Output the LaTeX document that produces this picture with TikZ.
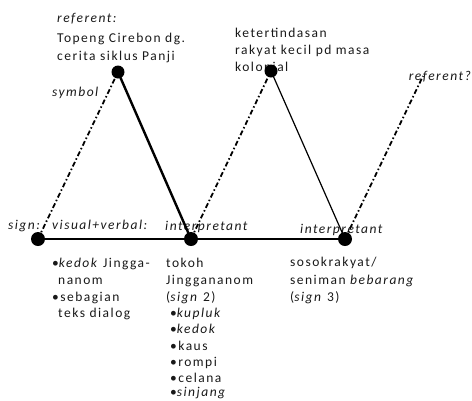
\documentclass[tikz,border=0pt]{standalone}
\usepackage{fontspec}
\setmainfont[LetterSpace=11]{Carlito}
\begin{document}
\begin{tikzpicture}[x=1pt,y=-1pt,
  txt/.style={anchor=base west,inner sep=0pt,font=\fontsize{13.5}{17}\selectfont,text=black!90},
  itx/.style={txt,font=\fontsize{13.5}{17}\selectfont\itshape},
  dot/.style={circle,fill=black,inner sep=0pt,minimum size=#1},
  dotdash/.style={line width=1.8pt,dash pattern=on 5pt off 2.5pt on 1.5pt off 2.5pt},
  thickline/.style={line width=2.4pt},
  thinline/.style={line width=1.2pt}]
\useasboundingbox (0,0) rectangle (472,400);
% text
\node[itx] (t1) at (57,22) {referent:};
\node[txt] (t2) at (57,42) {Topeng Cirebon dg.};
\node[txt] (t3) at (57,60) {cerita siklus Panji};
\node[itx] (t4) at (52,96) {symbol};
\node[txt] (t5) at (235,37) {ketertindasan};
\node[txt] (t6) at (235,54) {rakyat kecil pd masa};
\node[txt] (t7) at (235,71) {kolonial};
\node[itx,anchor=base east] (t8) at (471,80) {referent?};
\node[itx] (t9) at (8,229) {sign:};
\node[itx] (t10) at (52,229) {visual+verbal:};
\node[itx] (t11) at (165,230) {interpretant};
\node[itx] (t12) at (300,233) {interpretant};
\node[txt] (l1) at (52,267) {\textbullet\textit{kedok} Jingga-};
\node[txt] (l2) at (58,284) {nanom};
\node[txt] (l3) at (52,301) {\textbullet sebagian};
\node[txt] (l4) at (58,317) {teks dialog};
\node[txt] (m1) at (166,267) {tokoh};
\node[txt] (m2) at (166,284) {Jinggananom};
\node[txt] (m3) at (166,301) {(\textit{sign} 2)};
\node[txt] (m4) at (170,317) {\textbullet\textit{kupluk}};
\node[txt] (m5) at (170,333) {\textbullet\textit{kedok}};
\node[txt] (m6) at (170,350) {\textbullet kaus};
\node[txt] (m7) at (170,366) {\textbullet rompi};
\node[txt] (m8) at (170,382) {\textbullet celana};
\node[txt] (m9) at (170,396) {\textbullet\textit{sinjang}};
\node[txt] (r1) at (290,266) {sosokrakyat/};
\node[txt] (r2) at (290,284) {seniman \textit{bebarang}};
\node[txt] (r3) at (290,301) {(\textit{sign} 3)};
% points
\node[dot=14pt] (s) at (38,239) {};
\node[dot=13pt] (ref1) at (118,72) {};
\node[dot=14pt] (i1) at (191,239) {};
\node[dot=13pt] (ref2) at (271,71) {};
\node[dot=14pt] (i2) at (345,239) {};
\coordinate (ref3) at (423,76);
% connectors
\draw[dotdash] (s.center) -- (ref1.center);
\draw[dotdash] (i1.center) -- (ref2.center);
\draw[dotdash] (i2.center) -- (ref3);
\draw[thickline] (ref1.center) -- (i1.center);
\draw[thinline] (ref2.center) -- (i2.center);
\draw[thickline] (s.center) -- (i2.center);
\end{tikzpicture}
\end{document}
